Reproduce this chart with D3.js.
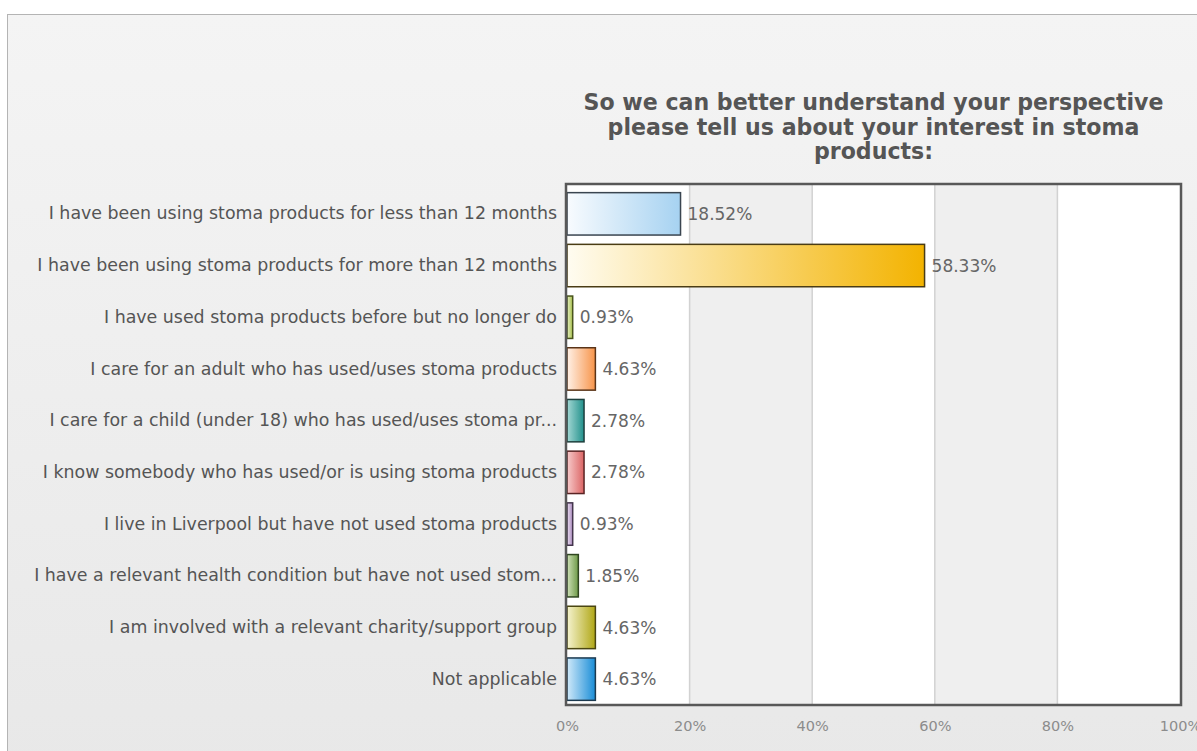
<!DOCTYPE html>
<html>
<head>
<meta charset="utf-8">
<script src="https://cdn.jsdelivr.net/npm/d3@7"></script>
<style>
  html, body { margin: 0; padding: 0; background: #ffffff; }
  svg { display: block; }
  text { font-family: "DejaVu Sans", Verdana, sans-serif; }
</style>
</head>
<body>
<svg id="chart" width="1197" height="751"></svg>
<script>
const titleLines = [
  "So we can better understand your perspective",
  "please tell us about your interest in stoma",
  "products:"
];

const categories = [
  "I have been using stoma products for less than 12 months",
  "I have been using stoma products for more than 12 months",
  "I have used stoma products before but no longer do",
  "I care for an adult who has used/uses stoma products",
  "I care for a child (under 18) who has used/uses stoma pr...",
  "I know somebody who has used/or is using stoma products",
  "I live in Liverpool but have not used stoma products",
  "I have a relevant health condition but have not used stom...",
  "I am involved with a relevant charity/support group",
  "Not applicable"
];

const values = [18.52, 58.33, 0.93, 4.63, 2.78, 2.78, 0.93, 1.85, 4.63, 4.63];

const tickValues = [0, 20, 40, 60, 80, 100];
const tickLabels = ["0%", "20%", "40%", "60%", "80%", "100%"];

// gradient stops per bar: [light left, saturated right, outline]
const barColors = [
  ["#f8fbfe", "#a6d2f1", "#3a4550"],
  ["#fffcf1", "#f3b300", "#4a3c14"],
  ["#e6efc4", "#a7bf4c", "#48531c"],
  ["#fff1e7", "#f7944a", "#5a3418"],
  ["#a4d8d4", "#21908b", "#1d3f3d"],
  ["#f7cbcb", "#db6464", "#5a2424"],
  ["#ebdff1", "#a98abd", "#43354c"],
  ["#cfe0b8", "#6d9a47", "#2f4620"],
  ["#f5f3cf", "#b0a716", "#4a4612"],
  ["#d0e9f9", "#198dd7", "#1c3a50"]
];

const svg = d3.select("#chart");
const defs = svg.append("defs");

// panel background
const bg = defs.append("linearGradient").attr("id", "panelBg")
  .attr("x1", 0).attr("y1", 0).attr("x2", 0).attr("y2", 1);
bg.append("stop").attr("offset", "0%").attr("stop-color", "#f4f4f4");
bg.append("stop").attr("offset", "100%").attr("stop-color", "#e8e8e8");

svg.append("rect")
  .attr("x", 7.5).attr("y", 14.5)
  .attr("width", 1200).attr("height", 760)
  .attr("fill", "url(#panelBg)")
  .attr("stroke", "#b4b4b4").attr("stroke-width", 1);

const plot = { left: 567, right: 1180, top: 184, bottom: 705 };

const x = d3.scaleLinear().domain([0, 100]).range([plot.left, plot.right]);
const y = d3.scaleBand().domain(categories)
  .range([188, plot.bottom])
  .paddingInner(0.18).paddingOuter(0.09);

// alternating column bands
const bands = d3.pairs(tickValues);
svg.append("g").selectAll("rect").data(bands).join("rect")
  .attr("x", d => x(d[0]))
  .attr("y", plot.top)
  .attr("width", d => x(d[1]) - x(d[0]))
  .attr("height", plot.bottom - plot.top)
  .attr("fill", (d, i) => i % 2 ? "#efefef" : "#ffffff");

// vertical grid lines
svg.append("g").selectAll("line").data(tickValues.slice(1, -1)).join("line")
  .attr("x1", d => x(d)).attr("x2", d => x(d))
  .attr("y1", plot.top).attr("y2", plot.bottom)
  .attr("stroke", "#d2d2d2").attr("stroke-width", 1.5);

// bar gradients
barColors.forEach((c, i) => {
  const g = defs.append("linearGradient").attr("id", "bar" + i)
    .attr("x1", 0).attr("y1", 0).attr("x2", 1).attr("y2", 0);
  g.append("stop").attr("offset", "0%").attr("stop-color", c[0]);
  g.append("stop").attr("offset", "100%").attr("stop-color", c[1]);
});

const rows = categories.map((c, i) => ({ cat: c, value: values[i], i }));

svg.append("g").selectAll("rect").data(rows).join("rect")
  .attr("x", x(0))
  .attr("y", d => y(d.cat))
  .attr("width", d => x(d.value) - x(0))
  .attr("height", y.bandwidth())
  .attr("fill", d => `url(#bar${d.i})`)
  .attr("stroke", d => barColors[d.i][2])
  .attr("stroke-width", 1.5);

// value labels
svg.append("g").selectAll("text").data(rows).join("text")
  .attr("x", d => x(d.value) + 7)
  .attr("y", d => y(d.cat) + y.bandwidth() / 2)
  .attr("dy", "0.36em")
  .attr("font-size", 17)
  .attr("fill", "#666666")
  .text(d => d.value.toFixed(2) + "%");

// plot frame
svg.append("rect")
  .attr("x", plot.left - 1).attr("y", plot.top)
  .attr("width", plot.right - plot.left + 2)
  .attr("height", plot.bottom - plot.top)
  .attr("fill", "none")
  .attr("stroke", "#585858").attr("stroke-width", 2.5);

// category axis
const yAxis = svg.append("g")
  .attr("transform", `translate(${plot.left - 10},0)`)
  .call(d3.axisLeft(y).tickSize(0).tickPadding(0));
yAxis.select(".domain").remove();
yAxis.selectAll("text")
  .attr("font-size", 17.4)
  .attr("fill", "#555555")
  .style("font-family", '"DejaVu Sans", Verdana, sans-serif');

// value axis
const xAxis = svg.append("g")
  .attr("transform", `translate(0,${plot.bottom})`)
  .call(d3.axisBottom(x).tickValues(tickValues)
    .tickFormat((d, i) => tickLabels[i]).tickSize(0).tickPadding(16));
xAxis.select(".domain").remove();
xAxis.selectAll("text")
  .attr("font-size", 14.5)
  .attr("fill", "#8c8c8c")
  .style("font-family", '"DejaVu Sans", Verdana, sans-serif');

// title
svg.append("text")
  .attr("x", (plot.left + plot.right) / 2)
  .attr("y", 110)
  .attr("text-anchor", "middle")
  .attr("font-size", 22.1)
  .attr("font-weight", "bold")
  .attr("fill", "#555555")
  .selectAll("tspan").data(titleLines).join("tspan")
  .attr("x", (plot.left + plot.right) / 2)
  .attr("dy", (d, i) => i === 0 ? 0 : 24.5)
  .text(d => d);
</script>
</body>
</html>
